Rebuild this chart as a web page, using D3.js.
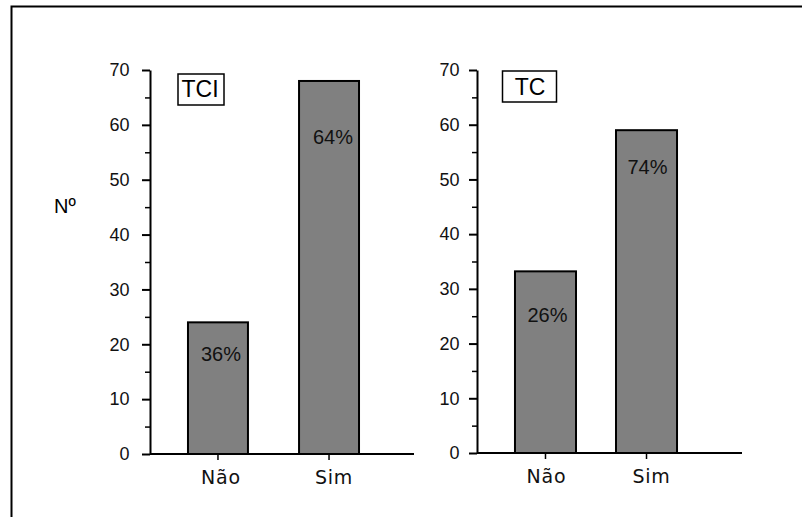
<!DOCTYPE html>
<html><head><meta charset="utf-8">
<script src="https://cdn.jsdelivr.net/npm/d3@7"></script>
<style>
html,body{margin:0;padding:0;background:#fff;}
svg{display:block;}
</style></head>
<body>
<script>
// ---- data ----
const categories = ["Não", "Sim"];
const panelNames = ["TCI", "TC"];
const tciValues = [24, 68];
const tcValues = [33.2, 59];
const tciLabels = ["36%", "64%"];
const tcLabels = ["26%", "74%"];
const tciLabelAt = [17, 56.5];   // value level where percentage text sits
const tcLabelAt = [24, 51];
const yTicks = [0, 10, 20, 30, 40, 50, 60, 70];
const yMinorTicks = [5, 15, 25, 35, 45, 55, 65];
const yLabel = "Nº";

// ---- layout ----
const W = 802, H = 517;
const svg = d3.select("body").append("svg").attr("width", W).attr("height", H);

svg.append("rect").attr("x", 11.5).attr("y", 6.5).attr("width", W + 10).attr("height", H + 10)
  .attr("fill", "none").attr("stroke", "#000").attr("stroke-width", 2);

svg.append("text").attr("x", 54).attr("y", 213).attr("font-family", "Liberation Sans, Arial, sans-serif")
  .attr("font-size", 20).attr("fill", "#000").text(yLabel);

const panels = [
  { name: panelNames[0], values: tciValues, labels: tciLabels, labelAt: tciLabelAt,
    x0: 150, xBandEnd: 397, xEnd: 414, yBottom: 454, yTop: 70, pi: 0.46, po: 0.342, tickPad: 12.5,
    box: [178, 74, 46, 31], titleX: 200, titleY: 97, labelDx: [3, 4], catDx: [3, 5] },
  { name: panelNames[1], values: tcValues, labels: tcLabels, labelAt: tcLabelAt,
    x0: 477, xBandEnd: 715, xEnd: 742, yBottom: 453, yTop: 70, pi: 0.396, po: 0.376, tickPad: 9.5,
    box: [502.5, 71, 54, 31], titleX: 530, titleY: 95, labelDx: [2, 1], catDx: [1, 5] }
];

panels.forEach(p => {
  const g = svg.append("g");
  const x = d3.scaleBand().domain(categories).range([p.x0, p.xBandEnd])
    .paddingInner(p.pi).paddingOuter(p.po);
  const y = d3.scaleLinear().domain([0, 70]).range([p.yBottom, p.yTop]);

  // bars
  g.selectAll("rect.bar").data(categories).join("rect").attr("class", "bar")
    .attr("x", d => x(d)).attr("width", x.bandwidth())
    .attr("y", (d, i) => y(p.values[i])).attr("height", (d, i) => y(0) - y(p.values[i]))
    .attr("fill", "#808080").attr("stroke", "#000").attr("stroke-width", 2);

  // percentage labels
  g.selectAll("text.pct").data(categories).join("text").attr("class", "pct")
    .attr("x", (d, i) => x(d) + x.bandwidth() / 2 + p.labelDx[i])
    .attr("y", (d, i) => y(p.labelAt[i]))
    .attr("text-anchor", "middle").attr("font-family", "Liberation Sans, Arial, sans-serif")
    .attr("font-size", 20).attr("fill", "#111").text((d, i) => p.labels[i]);

  // y axis major
  const ya = g.append("g").attr("transform", `translate(${p.x0},0)`)
    .call(d3.axisLeft(y).tickValues(yTicks).tickSize(8).tickSizeOuter(0).tickPadding(p.tickPad));
  ya.select(".domain").attr("stroke", "#000").attr("stroke-width", 2);
  ya.selectAll(".tick line").attr("stroke", "#000").attr("stroke-width", 2);
  ya.selectAll(".tick text").attr("font-family", "Liberation Sans, Arial, sans-serif")
    .attr("font-size", 18).attr("fill", "#111");

  // y axis minor
  const ym = g.append("g").attr("transform", `translate(${p.x0},0)`)
    .call(d3.axisLeft(y).tickValues(yMinorTicks).tickSize(5).tickFormat(""));
  ym.select(".domain").remove();
  ym.selectAll(".tick line").attr("stroke", "#000").attr("stroke-width", 1.5);

  // x axis
  const xa = g.append("g").attr("transform", `translate(0,${p.yBottom})`)
    .call(d3.axisBottom(x).tickSize(6).tickSizeOuter(0).tickPadding(11));
  xa.select(".domain").remove();
  xa.selectAll(".tick line").attr("stroke", "#000").attr("stroke-width", 1.5);
  xa.selectAll(".tick text").attr("font-family", "DejaVu Sans, Verdana, sans-serif")
    .attr("font-size", 19).attr("letter-spacing", 0.8).attr("fill", "#111")
    .attr("dx", (d, i) => p.catDx[i]);
  g.append("line").attr("x1", p.x0).attr("x2", p.xEnd)
    .attr("y1", y(0)).attr("y2", y(0)).attr("stroke", "#000").attr("stroke-width", 2);

  // title box
  g.append("rect").attr("x", p.box[0]).attr("y", p.box[1]).attr("width", p.box[2]).attr("height", p.box[3])
    .attr("fill", "#fff").attr("stroke", "#000").attr("stroke-width", 1.5);
  g.append("text").attr("x", p.titleX).attr("y", p.titleY).attr("text-anchor", "middle")
    .attr("font-family", "Liberation Sans, Arial, sans-serif").attr("font-size", 23)
    .attr("fill", "#000").text(p.name);
});
</script>
</body></html>
